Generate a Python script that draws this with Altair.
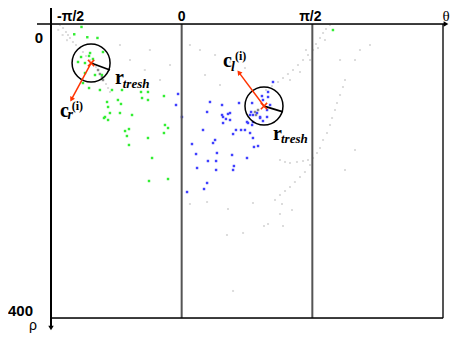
import altair as alt
import pandas as pd

# ---- data (theta in degrees, rho in pixels of Hough space) ----
green_theta = [-69, -74, -65, -58, -63.1, -54.2, -63.8, -61.1, -69.3, -71.4, -66.6, -66.6, -59.7, -54.9,
               -68, -63.8, -56.3, -48, -41.1, -28, -23.2, -27.3, -12.2, -23.2, -43.9, -51.4, -50.7, -41.8,
               -49.4, -42.5, -52.8, -34.2, -53.5, -50.7, -36.3, -39, -37.7, -36.3, -23.2, -11.5, -9.4,
               -12.2, -20.4, -22.5, -9.4, 104.2]
green_rho = [4, 14, 18, 19, 39.5, 38.1, 43.5, 47.6, 44.9, 51.7, 53.1, 66.7, 69.4, 69.4,
             80.3, 87.1, 89.8, 89.8, 89.8, 92.5, 92.5, 100.7, 98, 103.4, 103.4, 106.1, 112.9, 108.8,
             121.1, 121.1, 126.5, 123.8, 127.9, 130.6, 142.9, 145.6, 152.4, 164.6, 155.1, 137.4, 141.5,
             148.3, 182.3, 213.6, 210.9, 8.2]

blue_theta = [62.9, 59.5, 59.5, 55.3, 56, 48.5, 60.9, 58.8, 51.9, 54, 47.1, 19.5, 27.8, 39.5, 17.5,
              33.3, 47.8, 49.1, 58.8, 54, 56, 28.5, 28.5, 33.3, 45, 45.7, 48.5, 49.1, 14.7, 35.4,
              37.4, 40.9, 43.6, 47.1, 49.1, 52.6, 49.8, 7.1, 23, 21.6, 9.9, 24.3, 34.7, 45, 18.1,
              23.7, 36, 10.6, 35.4, 23.7, 17.5, 15.4, 3.7, 0.2, -2.5, -3.9, 30.5, 27.8, 31.9]
blue_rho = [78.9, 92.5, 99.3, 98, 103.4, 107.5, 110.2, 117, 121.1, 126.5, 123.8, 106.1, 110.2, 107.5, 119.7,
            121.1, 119.7, 123.8, 126.5, 127.9, 132, 126.5, 134.7, 130.6, 133.3, 134.7, 137.4, 133.3, 144.2, 149.7,
            144.2, 144.2, 144.2, 148.3, 155.1, 166, 167.3, 163.3, 157.8, 161.9, 176.9, 175.5, 178.2, 182.3, 186.4,
            186.4, 193.2, 195.9, 198.6, 198.6, 216.3, 224.5, 228.6, 126.5, 95.2, 110.2, 129.2, 123.8, 122.4]

gray_theta = [-83.8, -81.7, -79.7, -78.3, -76.9, -74.9, -72.8, -70, -68, -65.9, -63.1, -61.1, -59, -52.1,
              -50.7, -49.4, -85, -82, -79,
              102.2, 99.4, 97.4, 95.3, 92.5, 90.5, 87, 83.6, 80.1, 76.7, 73.2, 69.8, 66.4, 62.2, 58.1,
              93.9, 88.4, 81.5, 74.6, 98.7, 85.6,
              112.5, 111.1, 109.1, 107, 105.6, 103.6, 102.2, 100.1, 97.4, 95.3, 93.2, 90.5, 87, 83.6, 79.4,
              74.6, 71.2, 67.7, 88.4, 84.9, 81.5, 78, 74.6, 71.2, 67.7, 64.3,
              31.9, 67.7, 59.5, 56.7, 69.8, 42.3, 31.2, 35.4, 5.7, 17.5, 49.1, 69.1, 76, 12.6, 23, 33.3,
              43.6, 5.7, 16.1, 26.4, -35.6, -25.4, -14.9, -8, -42.5, -21.9, 122.8, 129.7, 119.4, 112.5,
              109.1, 119.4]
gray_rho = [1.4, 5.4, 10.9, 15, 19, 24.5, 28.6, 32.7, 38.1, 43.5, 49, 53.1, 58.5, 81.6,
            87.1, 92.5, 8, 15, 22,
            1.4, 6.8, 12.2, 19, 27.2, 35.4, 42.2, 49, 55.8, 62.6, 68, 73.5, 78.9, 84.4, 89.8,
            32.7, 49, 65.3, 76.2, 21.8, 35.4,
            76.2, 85.7, 96.6, 107.5, 117, 127.9, 137.4, 148.3, 157.8, 168.7, 175.5, 182.3, 185, 186.4, 187.7,
            189.1, 187.7, 185, 191.8, 201.4, 208.2, 215, 221.8, 227.2, 232.6, 239.4,
            251.7, 258.5, 272.1, 274.8, 274.8, 284.3, 287.1, 363.2, 244.9, 242.2, 243.5, 244.9, 253.1, 35.4, 42.2, 51.7,
            59.9, 28.6, 69.4, 83, 49, 62.6, 76.2, 55.8, 28.6, 35.4, 35.4, 28.6, 171.4, 198.6,
            49, 49]

dark_theta = [-57.6, -56.3, -54.9, -54.2, 50.5, 52.6, 51.2]
dark_rho = [62.6, 68, 72.1, 76.2, 119.7, 117, 123.8]

grid_theta = [0, 90, 180]
tick_theta = [-90, 0, 90]
tick_text = ["-π/2", "0", "π/2"]
tick_dx = [6, 0, -2]
rho_ticks = [0, 400]
rho_text = ["0", "400"]

# cluster centres, threshold radius ends, arrow tips
center_theta = [-62.4, 56.7]
center_rho = [53.1, 111.6]
radius_theta = [-49.4, 69.8]
radius_rho = [62.6, 119.7]
head_theta = [-75.9, 39.4]
head_rho = [102.6, 65.8]
head_angle = [209, 323]

# annotation label anchors
c_theta = [-83.8, 28.5]
c_rho = [126.1, 58.5]
sub_text = ["r", "l"]
sub_theta = [-78.6, 34]
sub_rho = [129.2, 63.9]
sup_theta = [-75.7, 36.7]
sup_rho = [117, 49]
r_theta = [-45.9, 62.9]
r_rho = [82, 157.8]
tresh_theta = [-40.6, 68.4]
tresh_rho = [87, 161.9]

W, H = 392, 294
xs = alt.Scale(domain=[-90, 180], nice=False, zero=False)
ys = alt.Scale(domain=[0, 400], reverse=True, nice=False, zero=False)
X = lambda f: alt.X(f, type="quantitative", scale=xs, axis=None)
Y = lambda f: alt.Y(f, type="quantitative", scale=ys, axis=None)
one = pd.DataFrame({"a": [0]})


def pts(th, rh, color, size):
    return alt.Chart(pd.DataFrame({"theta": th, "rho": rh})).mark_square(
        size=size, color=color, opacity=1, strokeWidth=0).encode(x=X("theta"), y=Y("rho"))


gray = pts(gray_theta, gray_rho, "#dcdcdc", 4)
dark = pts(dark_theta, dark_rho, "#8a8a8a", 6)
green = pts(green_theta, green_rho, "#33ee33", 6)
blue = pts(blue_theta, blue_rho, "#4040ff", 6)

grid = alt.Chart(pd.DataFrame({"theta": grid_theta, "r0": [0] * 3, "r1": [400] * 3})).mark_rule(
    color="#555555", strokeWidth=2).encode(x=X("theta"), y=Y("r0"), y2="r1")
bottom = alt.Chart(pd.DataFrame({"t0": [-90], "t1": [180], "r": [400]})).mark_rule(
    color="black", strokeWidth=1.5).encode(x=X("t0"), x2="t1", y=Y("r"))

left_axis = alt.Chart(one).mark_rule(color="black", strokeWidth=2).encode(
    x=alt.value(0), y=alt.value(-19), y2=alt.value(304))
top_axis = alt.Chart(one).mark_rule(color="black", strokeWidth=1.5).encode(
    x=alt.value(-14), x2=alt.value(394), y=alt.value(0))
down_head = alt.Chart(one).mark_point(shape="triangle-down", filled=True, color="black", size=30,
                                      opacity=1).encode(x=alt.value(0), y=alt.value(304))
right_head = alt.Chart(one).mark_point(shape="triangle-right", filled=True, color="black", size=30,
                                       opacity=1).encode(x=alt.value(395), y=alt.value(0))

tick_df = pd.DataFrame({"theta": tick_theta, "t": tick_text, "dx": tick_dx, "r": [0] * 3})
tick_layers = []
for i in range(3):
    tick_layers.append(
        alt.Chart(tick_df.iloc[[i]]).mark_text(
            font="Liberation Sans", fontWeight="bold", fontSize=14, baseline="alphabetic",
            align="left" if i == 0 else "center", dx=tick_dx[i], color="black").encode(
            x=X("theta"), y=alt.value(-3), text="t:N"))

rho_df = pd.DataFrame({"rho": rho_ticks, "t": rho_text})
rho0 = alt.Chart(rho_df.iloc[[0]]).mark_text(
    font="Liberation Sans", fontWeight="bold", fontSize=15, align="right", baseline="alphabetic",
    dy=19, color="black").encode(x=alt.value(-8), y=Y("rho"), text="t:N")
rho400 = alt.Chart(rho_df.iloc[[1]]).mark_text(
    font="Liberation Sans", fontWeight="bold", fontSize=15, align="right", baseline="alphabetic",
    dy=-2, color="black").encode(x=alt.value(-18), y=Y("rho"), text="t:N")

theta_lbl = alt.Chart(pd.DataFrame({"t": ["θ"]})).mark_text(
    font="Liberation Serif", fontSize=15, align="center", baseline="alphabetic", color="black").encode(
    x=alt.value(395), y=alt.value(-3), text="t:N")
rho_lbl = alt.Chart(pd.DataFrame({"t": ["ρ"]})).mark_text(
    font="Liberation Sans", fontSize=14, align="center", baseline="alphabetic", color="black").encode(
    x=alt.value(-18), y=alt.value(306), text="t:N")

ann = pd.DataFrame({
    "ct": center_theta, "cr": center_rho, "rt": radius_theta, "rr": radius_rho,
    "ht": head_theta, "hr": head_rho, "ang": head_angle,
})
circles = alt.Chart(ann).mark_point(shape="circle", size=1444, filled=False, color="black",
                                    strokeWidth=1.5, opacity=1).encode(x=X("ct"), y=Y("cr"))
radius = alt.Chart(ann).mark_rule(color="black", strokeWidth=1.8).encode(
    x=X("ct"), y=Y("cr"), x2="rt", y2="rr")
arrows = alt.Chart(ann).mark_rule(color="#ff3300", strokeWidth=1.5).encode(
    x=X("ct"), y=Y("cr"), x2="ht", y2="hr")
heads = alt.Chart(ann).mark_point(shape="triangle-up", filled=True, color="#ff3300", size=30,
                                  opacity=1).encode(x=X("ht"), y=Y("hr"),
                                                    angle=alt.Angle("ang:Q", scale=None))
crosses = alt.Chart(ann).mark_point(shape="M-1,-1L1,1M-1,1L1,-1", filled=False, color="#ff3300",
                                    strokeWidth=1.5, size=40, opacity=1).encode(x=X("ct"), y=Y("cr"))


def txt(th, rh, texts, **style):
    return alt.Chart(pd.DataFrame({"theta": th, "rho": rh, "t": texts})).mark_text(
        align="left", baseline="alphabetic", color="black", font="Liberation Serif", **style).encode(
        x=X("theta"), y=Y("rho"), text="t:N")


c_lbl = txt(c_theta, c_rho, ["c", "c"], fontSize=20, fontWeight="bold")
sub_lbl = txt(sub_theta, sub_rho, sub_text, fontSize=14, fontWeight="bold", fontStyle="italic")
sup_lbl = txt(sup_theta, sup_rho, ["(i)", "(i)"], fontSize=12, fontWeight="bold")
r_lbl = txt(r_theta, r_rho, ["r", "r"], fontSize=20, fontWeight="bold")
tresh_lbl = txt(tresh_theta, tresh_rho, ["tresh", "tresh"], fontSize=13, fontWeight="bold",
                fontStyle="italic")

chart = alt.layer(
    gray, dark, green, blue, grid, bottom, left_axis, top_axis, down_head, right_head,
    *tick_layers, rho0, rho400, theta_lbl, rho_lbl,
    circles, radius, arrows, heads, crosses,
    c_lbl, sub_lbl, sup_lbl, r_lbl, tresh_lbl,
).properties(
    width=W, height=H, autosize="none",
    padding={"left": 43, "top": 16, "right": 7, "bottom": 15},
).configure_view(stroke=None).configure(background="white")

chart.save("out.html", embed_options={"renderer": "svg", "actions": False})
